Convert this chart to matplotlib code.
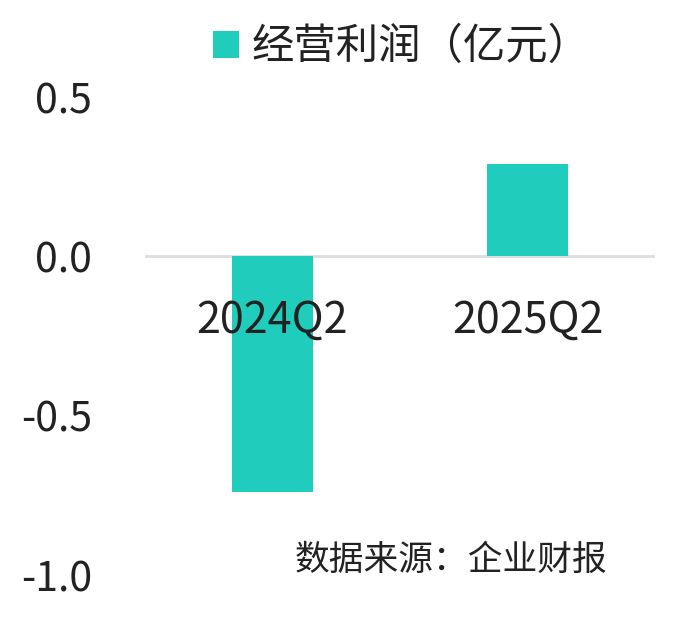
import numpy as np
import matplotlib
matplotlib.use("Agg")
from matplotlib import pyplot as plt

plt.rcParams['font.family'] = ['Noto Sans CJK SC', 'DejaVu Sans']

# 数据
categories = ['2024Q2', '2025Q2']
profit = [-0.74, 0.29]
yticks = [-1.0, -0.5, 0.0, 0.5]
series_name = '经营利润（亿元）'
source = '数据来源：企业财报'

color = '#20CDBD'

fig = plt.figure(figsize=(6.74, 6.33), dpi=100)
ax = fig.add_axes([145/674, 1 - 575/633, 510/674, 478/633])

x = np.arange(len(categories))
ax.bar(x, profit, width=0.314, color=color, label=series_name, zorder=2)
ax.axhline(0, color='#DDDDDD', linewidth=2, zorder=1)

ax.set_xlim(-0.5, 1.5)
ax.set_ylim(-1.0, 0.5)
ax.set_yticks(yticks)
ax.set_yticklabels(['%.1f' % v for v in yticks], fontsize=29.5, color='#222222')
ax.tick_params(axis='y', length=0, pad=38)
ax.set_xticks([])
for s in ax.spines.values():
    s.set_visible(False)

# 类目标签放在零线下方
for xi, name in zip(x, categories):
    ax.annotate(name, xy=(xi, 0), xytext=(0, -46), textcoords='offset points',
                ha='center', va='center', fontsize=31, color='#222222')

fig.legend(loc='center', bbox_to_anchor=(402/674, 1 - 47/633), frameon=False,
           fontsize=30.5, handlelength=0.6, handleheight=0.6, handletextpad=0.3,
           labelcolor='#222222')

fig.text(607/674, 1 - 560/633, source, ha='right', va='center',
         fontsize=25, color='#222222')

fig.savefig('out.png', dpi=100)
